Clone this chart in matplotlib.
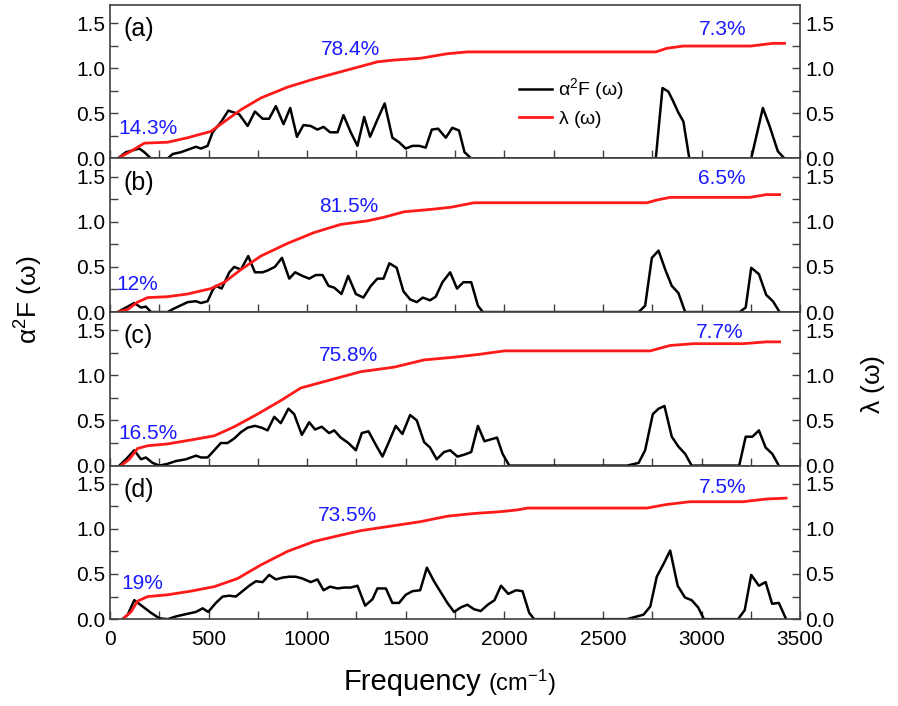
import matplotlib
matplotlib.use("Agg")
import matplotlib.pyplot as plt
from matplotlib.ticker import MultipleLocator

plt.rcParams['font.family'] = ['Liberation Sans', 'DejaVu Sans']
plt.rcParams['mathtext.default'] = 'regular'

# ---- panel (a) ----
w_a2f_a = [39, 81, 149, 174, 208, 292, 318, 360, 436, 461, 495, 520, 562, 600, 655, 698, 735, 774, 807,
           841, 880, 914, 948, 981, 1018, 1052, 1083, 1116, 1154, 1184, 1221, 1255, 1289, 1319, 1356, 1393,
           1432, 1466, 1500, 1534, 1568, 1601, 1632, 1664, 1703, 1736, 1770, 1798, 1832, 2768, 2802, 2832,
           2857, 2882, 2908, 2938, 3252, 3311, 3345, 3387, 3421]
a2f_a = [0, 0.07, 0.11, 0.07, 0, 0, 0.05, 0.07, 0.13, 0.11, 0.14, 0.29, 0.40, 0.53, 0.49, 0.36, 0.52, 0.44,
         0.44, 0.58, 0.38, 0.56, 0.24, 0.37, 0.36, 0.32, 0.35, 0.29, 0.29, 0.48, 0.29, 0.14, 0.46, 0.24,
         0.43, 0.61, 0.23, 0.18, 0.11, 0.14, 0.14, 0.12, 0.32, 0.33, 0.23, 0.34, 0.31, 0.07, 0, 0, 0.78,
         0.74, 0.63, 0.51, 0.41, 0, 0, 0.56, 0.36, 0.08, 0]
w_lam_a = [39, 106, 174, 292, 394, 512, 562, 664, 765, 900, 1035, 1170, 1272, 1356, 1441, 1576, 1711,
           1812, 2768, 2824, 2908, 3250, 3362, 3421]
lam_a = [0, 0.08, 0.17, 0.18, 0.23, 0.30, 0.38, 0.54, 0.67, 0.79, 0.88, 0.96, 1.02, 1.07, 1.09, 1.11,
         1.16, 1.18, 1.18, 1.22, 1.245, 1.245, 1.275, 1.275]

# ---- panel (b) ----
w_a2f_b = [39, 81, 123, 157, 182, 208, 292, 326, 394, 436, 461, 495, 520, 537, 566, 605, 630, 664, 701,
           735, 774, 799, 836, 872, 909, 939, 976, 1010, 1044, 1078, 1108, 1137, 1174, 1208, 1247, 1285,
           1323, 1356, 1387, 1417, 1454, 1488, 1522, 1556, 1586, 1623, 1652, 1686, 1725, 1760, 1792, 1832,
           1866, 1891, 2681, 2714, 2748, 2782, 2816, 2849, 2883, 2917, 3193, 3224, 3252, 3291, 3328,
           3362, 3396]
a2f_b = [0, 0.05, 0.10, 0.05, 0.06, 0, 0, 0.04, 0.11, 0.12, 0.10, 0.12, 0.24, 0.29, 0.26, 0.44, 0.50,
         0.47, 0.62, 0.44, 0.44, 0.46, 0.50, 0.60, 0.37, 0.44, 0.40, 0.37, 0.41, 0.41, 0.29, 0.27, 0.20,
         0.40, 0.20, 0.16, 0.29, 0.37, 0.37, 0.54, 0.49, 0.23, 0.14, 0.11, 0.16, 0.13, 0.17, 0.33, 0.44,
         0.26, 0.33, 0.33, 0.07, 0, 0, 0.07, 0.60, 0.68, 0.47, 0.29, 0.21, 0, 0, 0.05, 0.49, 0.42, 0.19,
         0.12, 0]
w_lam_b = [39, 90, 140, 191, 292, 394, 512, 580, 664, 765, 900, 1035, 1170, 1306, 1390, 1491, 1643, 1728,
           1846, 2723, 2773, 2841, 3246, 3328, 3396]
lam_b = [0, 0.03, 0.11, 0.16, 0.17, 0.20, 0.26, 0.33, 0.47, 0.62, 0.76, 0.88, 0.97, 1.01, 1.05, 1.11,
         1.14, 1.16, 1.21, 1.21, 1.24, 1.27, 1.27, 1.30, 1.30]

# ---- panel (c) ----
w_a2f_c = [47, 81, 123, 157, 182, 216, 250, 292, 334, 385, 436, 461, 495, 529, 562, 596, 630, 664, 698,
           735, 769, 799, 833, 866, 905, 934, 973, 1010, 1040, 1074, 1111, 1137, 1170, 1209, 1247, 1277,
           1311, 1348, 1382, 1416, 1449, 1483, 1522, 1556, 1593, 1623, 1657, 1694, 1725, 1762, 1795, 1832,
           1866, 1899, 1963, 1991, 2025, 2622, 2681, 2714, 2753, 2782, 2812, 2849, 2883, 2917, 2950, 3191,
           3224, 3258, 3291, 3325, 3359, 3392]
a2f_c = [0, 0.07, 0.17, 0.07, 0.09, 0.03, 0, 0.02, 0.05, 0.07, 0.11, 0.09, 0.09, 0.17, 0.25, 0.25, 0.30,
         0.37, 0.42, 0.44, 0.42, 0.39, 0.54, 0.47, 0.63, 0.57, 0.34, 0.48, 0.40, 0.43, 0.36, 0.39, 0.31,
         0.25, 0.17, 0.36, 0.38, 0.23, 0.10, 0.27, 0.44, 0.35, 0.56, 0.50, 0.26, 0.20, 0.07, 0.15, 0.17,
         0.10, 0.12, 0.15, 0.44, 0.27, 0.31, 0.13, 0, 0, 0.03, 0.17, 0.57, 0.63, 0.66, 0.32, 0.21, 0.13,
         0, 0, 0.32, 0.32, 0.39, 0.20, 0.13, 0]
w_lam_c = [56, 98, 140, 191, 292, 427, 529, 630, 748, 866, 968, 1137, 1272, 1441, 1593, 1745, 1866, 2000,
           2740, 2841, 2959, 3211, 3328, 3396]
lam_c = [0, 0.07, 0.19, 0.22, 0.24, 0.29, 0.33, 0.43, 0.57, 0.72, 0.86, 0.96, 1.04, 1.09, 1.17, 1.20,
         1.23, 1.27, 1.27, 1.33, 1.35, 1.35, 1.37, 1.37]

# ---- panel (d) ----
w_a2f_d = [64, 90, 123, 166, 208, 250, 292, 334, 394, 436, 470, 498, 537, 571, 605, 638, 672, 706, 740,
           774, 807, 841, 875, 909, 942, 976, 1018, 1052, 1083, 1116, 1154, 1187, 1221, 1255, 1294, 1331,
           1356, 1399, 1432, 1466, 1500, 1534, 1573, 1607, 1643, 1677, 1711, 1745, 1779, 1812, 1846, 1880,
           1916, 1950, 1983, 2020, 2059, 2092, 2126, 2151, 2622, 2706, 2740, 2773, 2807, 2841, 2879, 2916,
           2950, 2983, 3012, 3185, 3219, 3252, 3291, 3325, 3358, 3392, 3429]
a2f_d = [0, 0.05, 0.21, 0.14, 0.07, 0.01, 0, 0.03, 0.06, 0.08, 0.12, 0.08, 0.18, 0.25, 0.26, 0.25, 0.31,
         0.37, 0.42, 0.41, 0.49, 0.44, 0.46, 0.47, 0.47, 0.45, 0.41, 0.44, 0.32, 0.36, 0.34, 0.35, 0.35,
         0.37, 0.15, 0.22, 0.34, 0.34, 0.18, 0.18, 0.27, 0.31, 0.32, 0.57, 0.42, 0.30, 0.18, 0.08, 0.13,
         0.16, 0.11, 0.09, 0.16, 0.21, 0.37, 0.28, 0.32, 0.31, 0.07, 0, 0, 0.05, 0.14, 0.47, 0.61, 0.76,
         0.37, 0.24, 0.21, 0.13, 0, 0, 0.10, 0.49, 0.37, 0.41, 0.17, 0.18, 0]
w_lam_d = [64, 106, 140, 191, 292, 410, 529, 647, 765, 900, 1035, 1170, 1272, 1424, 1576, 1711, 1846,
           1981, 2067, 2118, 2723, 2824, 2941, 3210, 3328, 3429]
lam_d = [0, 0.08, 0.20, 0.25, 0.27, 0.31, 0.36, 0.45, 0.60, 0.75, 0.86, 0.93, 0.98, 1.03, 1.08, 1.14,
         1.17, 1.19, 1.21, 1.23, 1.23, 1.27, 1.30, 1.30, 1.33, 1.34]

panel_labels = ['(a)', '(b)', '(c)', '(d)']
pct_labels = [['14.3%', '78.4%', '7.3%'],
              ['12%', '81.5%', '6.5%'],
              ['16.5%', '75.8%', '7.7%'],
              ['19%', '73.5%', '7.5%']]
pct_x = [[193, 1218, 3107], [137, 1213, 3101], [193, 1208, 3091], [162, 1203, 3107]]
pct_y = [[0.33, 1.21, 1.43], [0.31, 1.17, 1.48], [0.36, 1.22, 1.47], [0.39, 1.15, 1.46]]

panels = [(w_a2f_a, a2f_a, w_lam_a, lam_a),
          (w_a2f_b, a2f_b, w_lam_b, lam_b),
          (w_a2f_c, a2f_c, w_lam_c, lam_c),
          (w_a2f_d, a2f_d, w_lam_d, lam_d)]

fig, axes = plt.subplots(4, 1, figsize=(8.98, 7.06), dpi=100, sharex=True)
fig.subplots_adjust(left=0.1225, right=0.891, bottom=0.123, top=0.993, hspace=0)

spine_col = '#404040'
for i, ax in enumerate(axes):
    w1, a2f, w2, lam = panels[i]
    ax.plot(w1, a2f, color='black', lw=1.8, label=r'$\alpha^2$F ($\omega$)')
    ax.plot(w2, lam, color='#ff1a1a', lw=2.0, label=r'$\lambda$ ($\omega$)')
    ax.set_xlim(0, 3500)
    ax.set_ylim(0, 1.7)
    ax.xaxis.set_major_locator(MultipleLocator(500))
    ax.xaxis.set_minor_locator(MultipleLocator(250))
    ax.yaxis.set_major_locator(MultipleLocator(0.5))
    ax.yaxis.set_minor_locator(MultipleLocator(0.25))
    ax.yaxis.set_major_formatter(matplotlib.ticker.FormatStrFormatter('%.1f'))
    ax.tick_params(which='both', direction='in', length=6, width=1, color=spine_col,
                   left=True, right=True, top=False, labelright=True, labelsize=15)
    ax.tick_params(axis='x', pad=8)
    for s in ax.spines.values():
        s.set_color(spine_col)
        s.set_linewidth(1.2)
    ax.text(66, 1.43, panel_labels[i], fontsize=18, va='center', ha='left')
    for t, x, y in zip(pct_labels[i], pct_x[i], pct_y[i]):
        ax.text(x, y, t, fontsize=15, color='#1a1aff', ha='center', va='center')

axes[0].legend(loc='center left', bbox_to_anchor=(0.567, 0.36), frameon=False, fontsize=14,
               handlelength=1.7, handletextpad=0.3, labelspacing=0.35)

fig.text(0.383, 0.022, 'Frequency', fontsize=21, ha='left', va='baseline')
fig.text(0.543, 0.022, r'(cm$^{-1}$)', fontsize=17, ha='left', va='baseline')
fig.text(0.032, 0.575, r'$\alpha^2$F ($\omega$)', fontsize=19, rotation=90, ha='center', va='center')
fig.text(0.972, 0.455, r'$\lambda$ ($\omega$)', fontsize=19, rotation=90, ha='center', va='center')

fig.savefig('out.png', dpi=100)
